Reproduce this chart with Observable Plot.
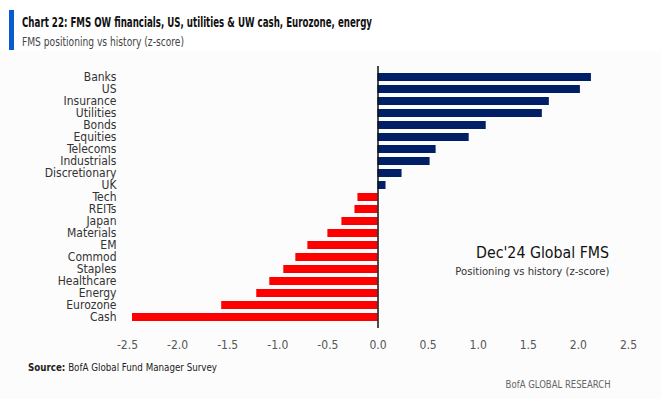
<!DOCTYPE html>
<html>
<head>
<meta charset="utf-8">
<script src="https://cdn.jsdelivr.net/npm/d3@7"></script>
<script src="https://cdn.jsdelivr.net/npm/@observablehq/plot@0.6"></script>
<style>
  html, body { margin: 0; padding: 0; background: #ffffff; }
  #page { position: relative; width: 661px; height: 399px; overflow: hidden; font-family: "DejaVu Sans Condensed", "DejaVu Sans", sans-serif; }
  #lower { position: absolute; left: 0; top: 51px; width: 661px; height: 348px; background: #fcfcfc; }
  #bar { position: absolute; left: 9px; top: 10px; width: 5px; height: 40px; background: #0a5ad2; }
  .fit { position: absolute; white-space: nowrap; line-height: 1.2; }
  #title { left: 22px; top: 14px; font-size: 14px; font-weight: bold; color: #111; transform-origin: left center; }
  #subtitle { left: 22px; top: 34px; font-size: 13px; color: #444; transform-origin: left center; }
  #chart { position: absolute; left: 0; top: 55px; }
  #note1 { right: 52px; top: 243px; font-size: 16px; color: #111; transform-origin: right center; }
  #note2 { right: 52px; top: 265px; font-size: 11px; color: #333; transform-origin: right center; }
  #source { left: 28px; top: 361px; font-size: 11px; color: #222; transform-origin: left center; }
  #brand { right: 50px; top: 378px; font-size: 10.5px; color: #666; transform-origin: right center; }
</style>
</head>
<body>
<div id="page">
  <div id="lower"></div>
  <div id="bar"></div>
  <div id="chart"></div>
  <div class="fit" id="title" data-w="350">Chart 22: FMS OW financials, US, utilities &amp; UW cash, Eurozone, energy</div>
  <div class="fit" id="subtitle" data-w="162">FMS positioning vs history (z-score)</div>
  <div class="fit" id="note1" data-w="133">Dec'24 Global FMS</div>
  <div class="fit" id="note2" data-w="154">Positioning vs history (z-score)</div>
  <div class="fit" id="source" data-w="189"><b>Source:</b> BofA Global Fund Manager Survey</div>
  <div class="fit" id="brand" data-w="105">BofA GLOBAL RESEARCH</div>
</div>
<script>
const categories = ["Banks","US","Insurance","Utilities","Bonds","Equities","Telecoms","Industrials","Discretionary","UK","Tech","REITs","Japan","Materials","EM","Commod","Staples","Healthcare","Energy","Eurozone","Cash"];
const values = [2.13,2.02,1.71,1.64,1.08,0.91,0.58,0.52,0.24,0.08,-0.20,-0.23,-0.36,-0.50,-0.70,-0.82,-0.94,-1.08,-1.21,-1.56,-2.45];
const xTicks = [-2.5,-2.0,-1.5,-1.0,-0.5,0.0,0.5,1.0,1.5,2.0,2.5];

const data = categories.map((c, i) => ({category: c, value: values[i]}));
const fmt = d => d.toFixed(1);

const chart = Plot.plot({
  width: 661,
  height: 300,
  marginLeft: 127,
  marginRight: 33,
  marginTop: 11,
  marginBottom: 27,
  style: {fontFamily: '"DejaVu Sans Condensed", "DejaVu Sans", sans-serif', background: "transparent"},
  x: {domain: [-2.5, 2.5], ticks: xTicks, tickFormat: fmt, label: null},
  y: {domain: categories, padding: 0.3, label: null},
  marks: [
    Plot.barX(data, {x: "value", y: "category", fill: d => d.value >= 0 ? "#001f66" : "#ff0000"}),
    Plot.ruleX([0], {stroke: "#111", strokeWidth: 1.5}),
    Plot.axisY({tickSize: 0, tickPadding: 11, fontSize: 12, fill: "#333", label: null}),
    Plot.axisX({ticks: xTicks, tickFormat: fmt, tickSize: 0, tickPadding: 12, fontSize: 12, fill: "#555", label: null})
  ]
});
document.getElementById("chart").appendChild(chart);

document.querySelectorAll(".fit").forEach(el => {
  const w = el.getBoundingClientRect().width;
  const target = +el.dataset.w;
  if (w > 0) el.style.transform = `scaleX(${target / w})`;
});
</script>
</body>
</html>
